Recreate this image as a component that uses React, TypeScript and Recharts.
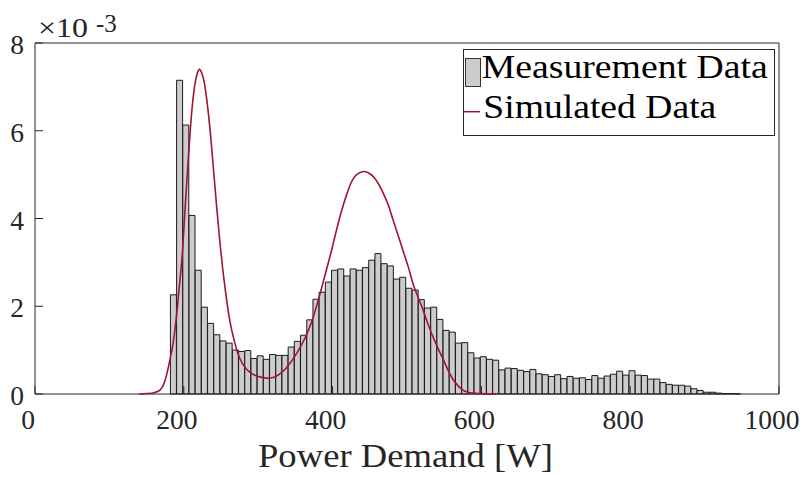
import React from 'react';
import { BarChart, Bar, LineChart, Line, XAxis, YAxis, Legend } from 'recharts';

// Histogram of measured power demand (density ×10^-3), bins start at 182 W, width ≈ 8.33 W
const BIN_START = 182;
const BIN_WIDTH = 8.33;
const measuredDensity = [
  2.26, 7.15, 6.13, 4.07, 2.82, 1.98, 1.61, 1.35, 1.21, 1.16,
  1.00, 0.97, 0.99, 0.81, 0.87, 0.79, 0.90, 0.88, 0.88, 1.07,
  1.20, 1.34, 1.69, 2.16, 2.32, 2.55, 2.82, 2.85, 2.69, 2.85,
  2.82, 2.88, 3.05, 3.20, 2.97, 2.92, 2.62, 2.66, 2.41, 2.37,
  2.15, 1.96, 1.98, 1.70, 1.45, 1.41, 1.16, 1.17, 0.94, 0.82,
  0.85, 0.79, 0.77, 0.55, 0.59, 0.58, 0.54, 0.51, 0.56, 0.46,
  0.44, 0.40, 0.44, 0.35, 0.40, 0.36, 0.37, 0.33, 0.42, 0.36,
  0.41, 0.45, 0.52, 0.43, 0.53, 0.43, 0.42, 0.34, 0.34, 0.26,
  0.22, 0.20, 0.20, 0.18, 0.12, 0.08, 0.04, 0.04, 0.02, 0.01,
  0.01, 0.005,
];

// Simulated density curve (×10^-3)
const simPower = [
  140, 150, 160, 168, 175, 181, 186, 190, 194, 198,
  202, 206, 210, 214, 218, 221, 224, 228, 232, 236,
  240, 244, 248, 252, 256, 261, 268, 275, 284, 293,
  302, 313, 322, 330, 338, 347, 356, 365, 372, 378,
  385, 392, 399, 405, 412, 419, 425, 431, 437, 443,
  449, 456, 462, 468, 475, 481, 488, 495, 502, 508,
  515, 522, 528, 535, 542, 549, 555, 562, 569, 575,
  582, 589, 600, 610, 620,
];
const simDensity = [
  0, 0.01, 0.03, 0.09, 0.32, 0.75, 1.2, 1.75, 2.45, 3.2,
  4.3, 5.35, 6.3, 6.95, 7.3, 7.4, 7.32, 7.05, 6.55, 5.9,
  5.1, 4.3, 3.55, 2.9, 2.35, 1.75, 1.2, 0.82, 0.57, 0.45,
  0.39, 0.36, 0.39, 0.47, 0.6, 0.8, 1.05, 1.35, 1.65, 1.98,
  2.4, 2.85, 3.3, 3.72, 4.17, 4.55, 4.82, 4.98, 5.05, 5.07,
  5.03, 4.93, 4.78, 4.58, 4.3, 3.98, 3.62, 3.25, 2.88, 2.52,
  2.2, 1.9, 1.6, 1.3, 1.03, 0.78, 0.55, 0.33, 0.18, 0.09,
  0.04, 0.02, 0.01, 0, 0,
];

const xTicks = [0, 200, 400, 600, 800, 1000];
const yTicks = [0, 2, 4, 6, 8];
const legendLabels = ['Measurement Data', 'Simulated Data'];
const xLabel = 'Power Demand [W]';

const barData = measuredDensity.map((v, i) => ({ power: BIN_START + BIN_WIDTH * (i + 0.5), density: v }));
const simData = simPower.map((p, i) => ({ power: p, sim: simDensity[i] }));

const FONT = '"Liberation Serif", "Times New Roman", serif';
const AXIS = '#262626';
const W = 804;
const H = 477;
const TICK_FS = 27.5;
// plot area: x 35 → 779, y 43 → 394
const MARGIN = { top: 42, right: 24, bottom: 82, left: 34 };

const XTick = (props: any) => {
  const { x, y, payload } = props;
  return (
    <text x={x - 7} y={y + TICK_FS * 0.7} textAnchor="middle" fill={AXIS} fontSize={TICK_FS} style={{ fontFamily: FONT }}>
      {payload.value}
    </text>
  );
};

const YTick = (props: any) => {
  const { x, y, payload } = props;
  return (
    <text x={x} y={y + 11} textAnchor="end" fill={AXIS} fontSize={TICK_FS} style={{ fontFamily: FONT }}>
      {payload.value}
    </text>
  );
};

const LegendBox = () => (
  <svg width={314} height={88} style={{ display: 'block', overflow: 'visible' }}>
    <rect x={0.5} y={0.5} width={311} height={86} fill="#fff" stroke={AXIS} strokeWidth={1} />
    <rect x={2.5} y={9.5} width={15} height={28} fill="#cccccc" stroke="#333" strokeWidth={1} />
    <text x={18.7} y={29.3} fontSize={34} fill="#000" textLength={286} lengthAdjust="spacingAndGlyphs" style={{ fontFamily: FONT }}>
      {legendLabels[0]}
    </text>
    <line x1={1} x2={17} y1={62.7} y2={62.7} stroke="#a2142f" strokeWidth={1.5} />
    <text x={20.3} y={69.3} fontSize={34} fill="#000" textLength={233} lengthAdjust="spacingAndGlyphs" style={{ fontFamily: FONT }}>
      {legendLabels[1]}
    </text>
  </svg>
);

const ExponentLabel = () => (
  <g>
    <text x={38} y={36.7} fontSize={28} fill={AXIS} textLength={50} lengthAdjust="spacingAndGlyphs" style={{ fontFamily: FONT }}>
      ×10
    </text>
    <text x={96} y={31.5} fontSize={25} fill={AXIS} style={{ fontFamily: FONT }}>
      -3
    </text>
  </g>
);

export default function App() {
  return (
    <div style={{ position: 'fixed', left: 0, top: 0, width: W, height: H, background: '#fff', fontFamily: FONT }}>
      <BarChart width={W} height={H} data={barData} margin={MARGIN} barCategoryGap={0} barGap={0}>
        <XAxis
          dataKey="power"
          type="number"
          domain={[0, 1000]}
          ticks={xTicks}
          interval={0}
          height={1}
          tickSize={-8}
          tickMargin={24}
          stroke={AXIS}
          tick={<XTick />}
          label={{
            content: () => (
              <text x={405.5} y={466.7} textAnchor="middle" fontSize={34} fill={AXIS} textLength={295} lengthAdjust="spacingAndGlyphs" style={{ fontFamily: FONT }}>
                {xLabel}
              </text>
            ),
          }}
        />
        <XAxis xAxisId="top" orientation="top" type="number" domain={[0, 1000]} ticks={xTicks} interval={0} height={1} tickSize={-8} tick={false} stroke={AXIS} />
        <YAxis
          type="number"
          domain={[0, 8]}
          ticks={yTicks}
          interval={0}
          width={1}
          tickSize={-8}
          tickMargin={19}
          stroke={AXIS}
          tick={<YTick />}
          label={{ content: () => <ExponentLabel /> }}
        />
        <YAxis yAxisId="right" orientation="right" type="number" domain={[0, 8]} ticks={yTicks} interval={0} width={1} tickSize={-8} tick={false} stroke={AXIS} />
        <Bar dataKey="density" fill="#cccccc" stroke="#1a1a1a" strokeWidth={1} isAnimationActive={false} />
        <Legend
          layout="horizontal"
          verticalAlign="middle"
          align="center"
          wrapperStyle={{ position: 'absolute', left: 463, top: 49, width: 314, height: 88, margin: 0, padding: 0 }}
          content={() => <LegendBox />}
        />
      </BarChart>
      <div style={{ position: 'absolute', left: 0, top: 0 }}>
        <LineChart width={W} height={H} data={simData} margin={{ top: 43, right: 25, bottom: 83, left: 35 }}>
          <XAxis dataKey="power" type="number" domain={[0, 1000]} hide height={0} />
          <YAxis type="number" domain={[0, 8]} hide width={0} />
          <Line type="monotone" dataKey="sim" stroke="#a2142f" strokeWidth={1.6} dot={false} isAnimationActive={false} />
        </LineChart>
      </div>
    </div>
  );
}
